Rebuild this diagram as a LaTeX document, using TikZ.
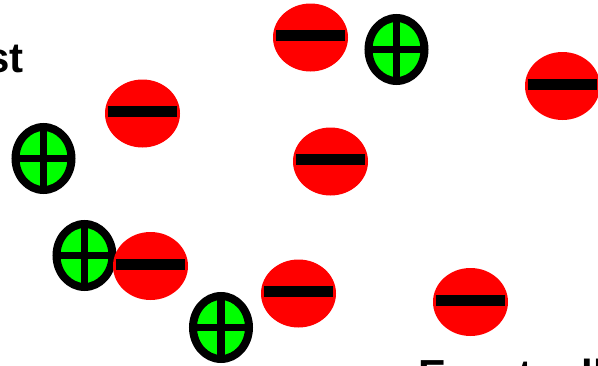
\documentclass[tikz,border=0pt]{standalone}
\usepackage{fontspec}
\setmainfont{Liberation Sans}
\usetikzlibrary{shapes.geometric}
\definecolor{posgreen}{RGB}{0,255,0}
\definecolor{negred}{RGB}{255,0,0}
\tikzset{
  negion/.style={ellipse, fill=negred, minimum width=75pt, minimum height=68pt, inner sep=0pt,
    path picture={\fill[black] ([shift={(-34.5pt,-3.5pt)}]path picture bounding box.center) rectangle ([shift={(34.5pt,7.5pt)}]path picture bounding box.center);}},
  posion/.style={ellipse, draw=black, line width=8pt, fill=posgreen, minimum width=56pt, minimum height=63pt, inner sep=0pt,
    path picture={\draw[black, line width=7.5pt] (path picture bounding box.north) -- (path picture bounding box.south);
                  \draw[black, line width=7.5pt] (path picture bounding box.west) -- (path picture bounding box.east);}},
  bigtext/.style={inner sep=0pt, font=\fontsize{42}{50}\selectfont\bfseries}
}
\begin{document}
\begin{tikzpicture}[x=1pt,y=-1pt]
\useasboundingbox (0,0) rectangle (598,365);
\clip (0,0) rectangle (598,365);
\fill[white] (0,0) rectangle (598,365);
% positive ions
\node[posion] (g1) at (396.5,49.5) {};
\node[posion] (g2) at (43.5,158.5) {};
\node[posion] (g3) at (84.5,255.5) {};
\node[posion] (g4) at (221,327.5) {};
% negative ions
\node[negion] (r1) at (310.5,37.5) {};
\node[negion] (r2) at (562.5,86) {};
\node[negion] (r3) at (142.5,113.5) {};
\node[negion] (r4) at (330.5,161.5) {};
\node[negion] (r5) at (150.5,266) {};
\node[negion] (r6) at (298.5,293.5) {};
\node[negion] (r7) at (470.5,302) {};
% texts
\node[bigtext, anchor=base east] (first) at (24,72) {First};
\node[bigtext, anchor=base west] (eventually) at (418,389) {Eventually};
\end{tikzpicture}
\end{document}
